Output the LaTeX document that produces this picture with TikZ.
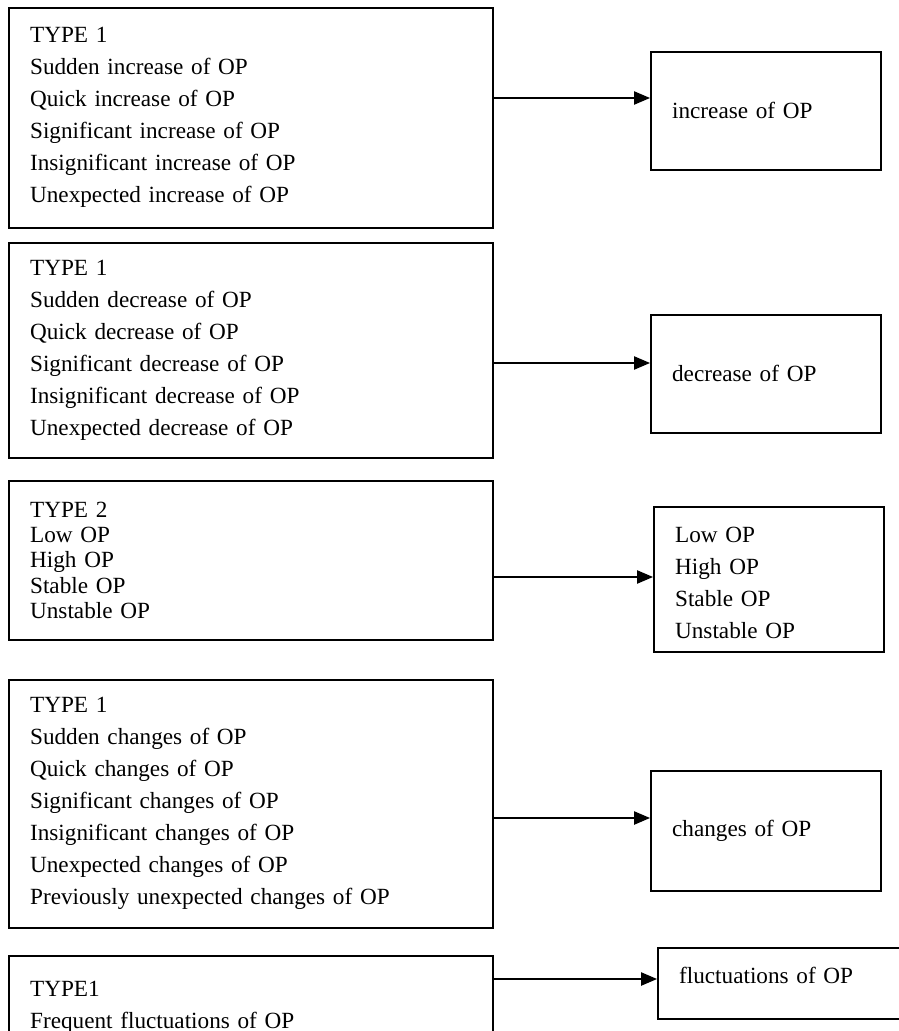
\documentclass[tikz,border=0pt]{standalone}
\usepackage{fontspec}
\setmainfont{Liberation Serif}
\usetikzlibrary{arrows.meta}

\tikzset{
  typebox/.style={draw,line width=1.2pt,anchor=north west,align=left,
    inner xsep=16pt,inner ysep=0pt,text width=331pt},
  opbox/.style={typebox,text width=140.5pt},
  flow/.style={-{Triangle[length=12pt,width=10pt]},line width=1pt}
}

\begin{document}
\begin{tikzpicture}[x=0.75pt,y=-0.75pt,font=\fontsize{17.4}{24}\selectfont]
  \useasboundingbox (0,0) rectangle (899,1031);

  % left column: the kinds of OP phrases
  \node[typebox,minimum height=165pt] (tinc) at (8,7)
    {TYPE 1\\Sudden increase of OP\\Quick increase of OP\\
     Significant increase of OP\\Insignificant increase of OP\\
     Unexpected increase of OP};
  \node[typebox,minimum height=161.25pt] (tdec) at (8,242)
    {TYPE 1\\Sudden decrease of OP\\Quick decrease of OP\\
     Significant decrease of OP\\Insignificant decrease of OP\\
     Unexpected decrease of OP};
  \node[typebox,minimum height=119.25pt,font=\fontsize{17.4}{19}\selectfont] (tlev) at (8,480)
    {TYPE 2\\Low OP\\High OP\\Stable OP\\Unstable OP};
  \node[typebox,minimum height=186pt] (tchg) at (8,679)
    {TYPE 1\\Sudden changes of OP\\Quick changes of OP\\
     Significant changes of OP\\Insignificant changes of OP\\
     Unexpected changes of OP\\Previously unexpected changes of OP};
  \node[typebox,minimum height=76.5pt] (tfl) at (8,955)
    {TYPE1\\Frequent fluctuations of OP};

  % right column: what they reduce to
  \node[opbox,minimum height=88.5pt] (oinc) at (650,51) {increase of OP};
  \node[opbox,minimum height=88.5pt] (odec) at (650,314) {decrease of OP};
  \node[opbox,minimum height=108.75pt,text height=17pt] (olev) at (653,506)
    {Low OP\\High OP\\Stable OP\\Unstable OP};
  \node[opbox,minimum height=90pt] (ochg) at (650,770) {changes of OP};
  \node[opbox,minimum height=53.25pt,text width=170pt,text depth=12pt] (ofl) at (657,947)
    {fluctuations of OP};

  % arrows
  \draw[flow] (tinc.east |- 0,98)  -- (oinc.west |- 0,98);
  \draw[flow] (tdec.east |- 0,363) -- (odec.west |- 0,363);
  \draw[flow] (tlev.east |- 0,577) -- (olev.west |- 0,577);
  \draw[flow] (tchg.east |- 0,818) -- (ochg.west |- 0,818);
  \draw[flow] (tfl.east |- 0,979)  -- (ofl.west |- 0,979);
\end{tikzpicture}
\end{document}
